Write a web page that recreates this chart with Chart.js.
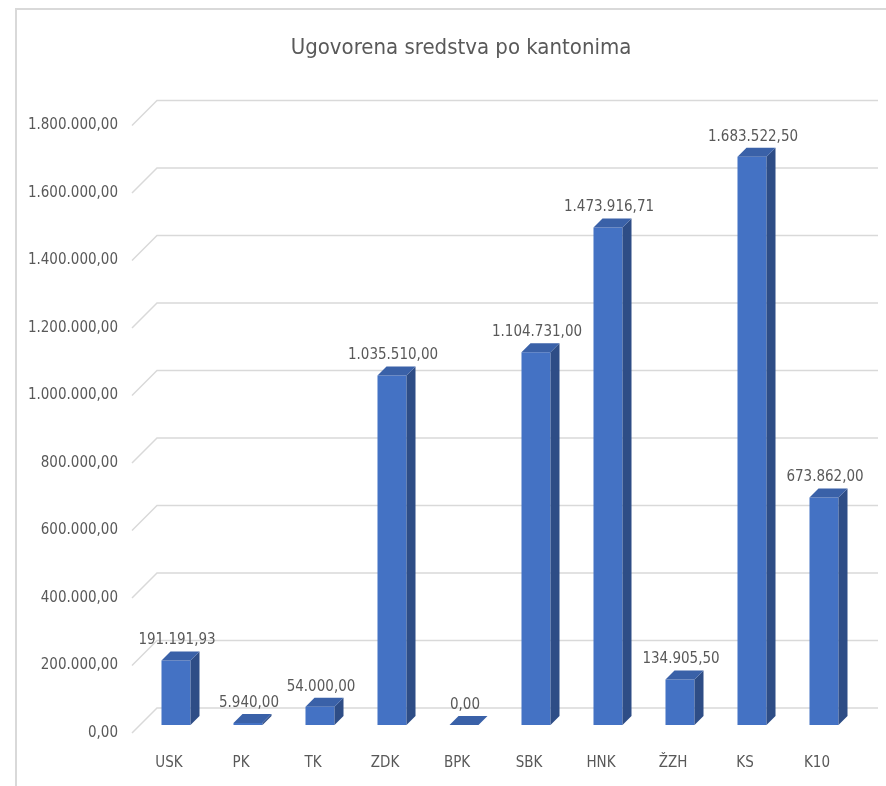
<!DOCTYPE html>
<html>
<head>
<meta charset="utf-8">
<script src="https://cdn.jsdelivr.net/npm/chart.js@4.4.1/dist/chart.umd.min.js"></script>
<style>
  html, body { margin: 0; padding: 0; overflow: hidden; background: #fff; }
  #wrap { position: relative; width: 922px; height: 786px; }
</style>
</head>
<body>
<div id="wrap"><canvas id="grafico"></canvas></div>
<script>
// podaci
var kantoni = ['USK', 'PK', 'TK', 'ZDK', 'BPK', 'SBK', 'HNK', 'ŽZH', 'KS', 'K10'];
var sredstva = [191191.93, 5940.00, 54000.00, 1035510.00, 0.00, 1104731.00, 1473916.71, 134905.50, 1683522.50, 673862.00];
var yTicks = [0, 200000, 400000, 600000, 800000, 1000000, 1200000, 1400000, 1600000, 1800000];

var FONT = '"Liberation Sans Narrow", "DejaVu Sans Condensed", sans-serif';
var SIVA = '#595959';
var DUBINA = 9;   // pomak za 3D efekt

// format 1.234.567,89
function formatBroj(v) {
  var s = v.toFixed(2).split('.');
  var cijeli = s[0].replace(/\B(?=(\d{3})+(?!\d))/g, '.');
  return cijeli + ',' + s[1];
}

// okvir + linije mreze (prednja dijagonala i zadnji zid)
var mrezaPlugin = {
  id: 'mreza',
  beforeDraw: function(chart) {
    var c = chart.ctx;
    c.save();
    c.strokeStyle = '#d9d9d9';
    c.lineWidth = 2;
    c.beginPath();
    c.moveTo(16, 786);
    c.lineTo(16, 9);
    c.lineTo(chart.width, 9);
    c.stroke();
    c.restore();
  },
  beforeDatasetsDraw: function(chart) {
    var c = chart.ctx;
    var y = chart.scales.y;
    var area = chart.chartArea;
    c.save();
    c.strokeStyle = '#d9d9d9';
    c.lineWidth = 1.5;
    yTicks.forEach(function(v) {
      var py = y.getPixelForValue(v);
      c.beginPath();
      c.moveTo(area.left - 8, py + 8);
      c.lineTo(area.left + 17, py - 17);
      c.lineTo(area.right + 18, py - 17);
      c.stroke();
    });
    c.restore();
  }
};

// bocna i gornja strana stupaca + oznake vrijednosti
var stupci3dPlugin = {
  id: 'stupci3d',
  afterDatasetsDraw: function(chart) {
    var c = chart.ctx;
    var meta = chart.getDatasetMeta(0);
    c.save();
    meta.data.forEach(function(bar, i) {
      var p = bar.getProps(['x', 'y', 'base', 'width'], true);
      var l = p.x - p.width / 2;
      var r = p.x + p.width / 2;
      var top = Math.min(p.y, p.base);
      var d = DUBINA;
      // bocna strana
      c.fillStyle = '#2e4d86';
      c.beginPath();
      c.moveTo(r, p.base);
      c.lineTo(r, top);
      c.lineTo(r + d, top - d);
      c.lineTo(r + d, p.base - d);
      c.closePath();
      c.fill();
      // gornja strana
      c.fillStyle = '#3a61a8';
      c.beginPath();
      c.moveTo(l, top);
      c.lineTo(r, top);
      c.lineTo(r + d, top - d);
      c.lineTo(l + d, top - d);
      c.closePath();
      c.fill();
      // vrijednost
      c.fillStyle = SIVA;
      c.font = '15px ' + FONT;
      c.textAlign = 'center';
      c.textBaseline = 'middle';
      c.fillText(formatBroj(sredstva[i]), p.x + 1, top - 20);
    });
    c.restore();
  }
};

var ctx = document.getElementById('grafico');
var chart = new Chart(ctx, {
  type: 'bar',
  data: {
    labels: kantoni,
    datasets: [{
      label: 'Ugovorena sredstva',
      data: sredstva,
      backgroundColor: '#4472c4',
      borderWidth: 0,
      barPercentage: 0.403,
      categoryPercentage: 1
    }]
  },
  options: {
    responsive: true,
    maintainAspectRatio: false,
    animation: false,
    layout: { padding: 0 },
    plugins: {
      legend: { display: false },
      tooltip: { enabled: false },
      title: {
        display: true,
        text: 'Ugovorena sredstva po kantonima',
        color: SIVA,
        font: { family: FONT, size: 22, weight: 'normal', lineHeight: 1.2 },
        padding: { top: 35, bottom: 56.1 }
      }
    },
    scales: {
      x: {
        grid: { display: false, drawTicks: false },
        border: { display: false },
        ticks: {
          color: SIVA,
          font: { family: FONT, size: 15 },
          padding: 29,
          labelOffset: -7,
          maxRotation: 0
        },
        afterFit: function(s) { s.height = 61; }
      },
      y: {
        min: 0,
        max: 1800000,
        grid: { display: false, drawTicks: false },
        border: { display: false },
        afterBuildTicks: function(s) {
          s.ticks = yTicks.map(function(v) { return { value: v }; });
        },
        ticks: {
          color: SIVA,
          font: { family: FONT, size: 15 },
          padding: 22,
          labelOffset: 8,
          callback: function(v) { return formatBroj(v); }
        },
        afterFit: function(s) { s.width = 140; }
      },
      // prazna desna os samo za razmak (naslov ostaje centriran na cijeloj sirini)
      desno: {
        position: 'right',
        display: true,
        grid: { display: false, drawTicks: false },
        border: { display: false },
        ticks: { display: false },
        afterFit: function(s) { s.width = 62; }
      }
    }
  },
  plugins: [mrezaPlugin, stupci3dPlugin]
});
</script>
</body>
</html>
